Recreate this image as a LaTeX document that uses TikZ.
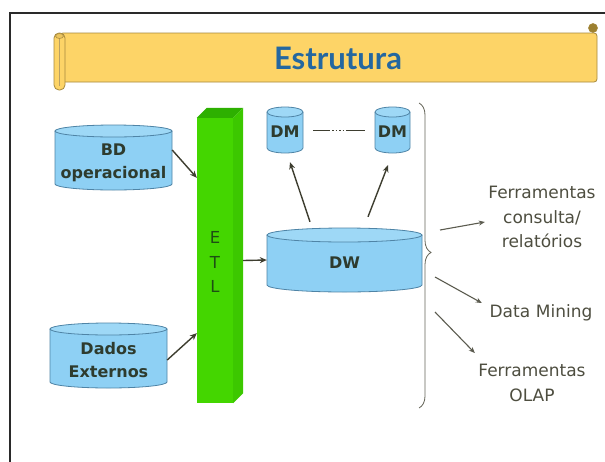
\documentclass[tikz,border=0pt]{standalone}
\usepackage{fontspec}
\setmainfont{DejaVu Sans}
\newfontfamily\titlefont{Lato}
\usetikzlibrary{arrows.meta,decorations.pathreplacing,calc}
\definecolor{cylfill}{HTML}{8ED0F4}
\definecolor{cyltop}{HTML}{9ED8F6}
\definecolor{cylline}{HTML}{4F84A6}
\definecolor{cyltext}{HTML}{2E3B2E}
\definecolor{barfront}{HTML}{44D600}
\definecolor{bartop}{HTML}{2DB000}
\definecolor{barside}{HTML}{3CC800}
\definecolor{etltext}{HTML}{1E4E14}
\definecolor{banfill}{HTML}{FDD467}
\definecolor{banline}{HTML}{A78A3E}
\definecolor{bandark}{HTML}{9C8030}
\definecolor{titlecol}{HTML}{2467A0}
\definecolor{arrcol}{HTML}{3E3E30}
\definecolor{tooltext}{HTML}{4E4E40}
\definecolor{framecol}{HTML}{2A2A2A}
\tikzset{
  cylbox/.style={draw=none, inner sep=0pt},
  cyltxt/.style={font=\fontsize{16}{23}\selectfont\bfseries, text=cyltext, align=center, inner sep=0pt},
  barbox/.style={fill=barfront, draw=none, inner sep=0pt, minimum width=36pt, minimum height=285pt},
  etltxt/.style={font=\fontsize{16.5}{24.5}\selectfont, text=etltext, align=center, inner sep=0pt},
  tooltxt/.style={font=\fontsize{17}{24.5}\selectfont, text=tooltext, align=center, inner sep=0pt},
  titlestyle/.style={font=\titlefont\bfseries\fontsize{31}{31}\selectfont, text=titlecol, inner sep=0pt},
  arr/.style={draw=arrcol, line width=1.4pt, -{Stealth[length=7pt,width=6pt]}},
  toolarr/.style={draw=arrcol!85, line width=1.1pt, -{Stealth[length=6pt,width=5pt]}},
  bracestyle/.style={draw=arrcol!80, line width=0.8pt, decorate, decoration={brace, amplitude=12pt, aspect=0.49}},
  banner/.style={draw=banline, fill=banfill, line width=0.8pt},
}
% name, x1, y1, x2, y2, ry, text offset, text
\newcommand\dbcyl[8]{%
  \fill[cylfill] (#2,{#3+#6}) -- (#2,{#5-#6})
     arc[start angle=180, end angle=0, x radius={(#4-#2)/2}, y radius=#6]
     -- (#4,{#3+#6})
     arc[start angle=0, end angle=-180, x radius={(#4-#2)/2}, y radius=#6] -- cycle;
  \draw[cylline, line width=0.8pt] (#2,{#3+#6}) -- (#2,{#5-#6})
     arc[start angle=180, end angle=0, x radius={(#4-#2)/2}, y radius=#6]
     -- (#4,{#3+#6});
  \draw[cylline, fill=cyltop, line width=0.8pt] ({(#2+#4)/2},{#3+#6}) ellipse[x radius={(#4-#2)/2}, y radius=#6];
  \node[cylbox, minimum width={#4-#2}, minimum height={#5-#3}] (#1) at ({(#2+#4)/2},{(#3+#5)/2}) {};
  \node[cyltxt] (#1-t) at ([yshift=-#7pt]#1.center) {#8};
}
\begin{document}
\begin{tikzpicture}[x=1pt, y=-1pt]
\useasboundingbox (0,0) rectangle (605,461);
\fill[white] (0,0) rectangle (605,461);
% frame
\draw[framecol, line width=2pt] (10,470) -- (10,13) -- (615,13);
% banner
\draw[banner, rounded corners=3pt] (60,33) -- (597,33) -- (597,82) -- (60,82) -- cycle;
\draw[banner, rounded corners=5pt] (54,33) rectangle (65,90);
\draw[banline!80, line width=0.6pt] (59.5,38) -- (59.5,86);
\draw[banline, fill=banfill!80!banline, line width=0.6pt] (59.5,36) ellipse[x radius=4, y radius=2.5];
\fill[bandark] (593,28) circle[radius=4.5];
\draw[banline, line width=0.6pt] (593,28) circle[radius=4.5];
\node[titlestyle] (title) at (338,58) {Estrutura};
% source databases
\dbcyl{bd}{55}{125}{172}{190}{6}{5.5}{BD\\operacional}
\dbcyl{dx}{50}{323}{167}{388}{6}{5}{Dados\\Externos}
% ETL bar
\node[barbox] (etl) at (215,260.5) {};
\fill[bartop] (etl.north west) -- ([shift={(10pt,10pt)}]etl.north west) -- ([shift={(10pt,10pt)}]etl.north east) -- (etl.north east) -- cycle;
\fill[barside] (etl.north east) -- ([shift={(10pt,10pt)}]etl.north east) -- ([shift={(10pt,10pt)}]etl.south east) -- (etl.south east) -- cycle;
\node[etltxt] (etltext) at (215,262) {E\\T\\L};
% DW and DMs
\dbcyl{dw}{267}{228}{422}{292}{7}{3}{DW}
\dbcyl{dml}{267}{107}{303}{153}{5}{2}{DM}
\dbcyl{dmr}{375}{107}{410}{153}{5}{2}{DM}
\draw[arrcol, line width=0.8pt, dash pattern=on 17pt off 2pt on 1.5pt off 2pt on 1.5pt off 2pt on 1.5pt off 2pt on 1.5pt off 2pt on 20pt]
  ([xshift=10pt]dml.east) -- ([xshift=-10pt]dmr.west);
% arrows
\draw[arr] ([yshift=7.5pt]bd.east) -- ([yshift=-60pt]etl.north west);
\draw[arr] ([yshift=-4.5pt]dx.east) -- ([yshift=70pt]etl.south west);
\draw[arr] ([xshift=10pt]etl.east) -- (dw.west);
\draw[arr] ([shift={(-34.5pt,6pt)}]dw.north) -- ([shift={(5pt,-9pt)}]dml.south);
\draw[arr] ([shift={(23.5pt,11pt)}]dw.north) -- ([shift={(-4.5pt,-12pt)}]dmr.south);
% brace
\coordinate (bt) at (419,103);
\coordinate (bb) at (419,408);
\draw[bracestyle] (bt) -- (bb);
% tools
\node[tooltxt, text width=120pt] (f1) at (542,217) {Ferramentas\\consulta/\\relatórios};
\node[tooltxt, text width=108pt] (dmn) at (541,313) {Data Mining};
\node[tooltxt, text width=120pt] (f2) at (532,383) {Ferramentas\\OLAP};
\coordinate (a1) at (440,230);
\coordinate (a2) at (435,277);
\coordinate (a3) at (435,312);
\draw[toolarr] (a1) -- ([shift={(3pt,-5pt)}]f1.west);
\draw[toolarr] (a2) -- ([shift={(-5pt,10pt)}]dmn.west);
\draw[toolarr] (a3) -- ([shift={(3pt,30pt)}]f2.west);
\end{tikzpicture}
\end{document}
